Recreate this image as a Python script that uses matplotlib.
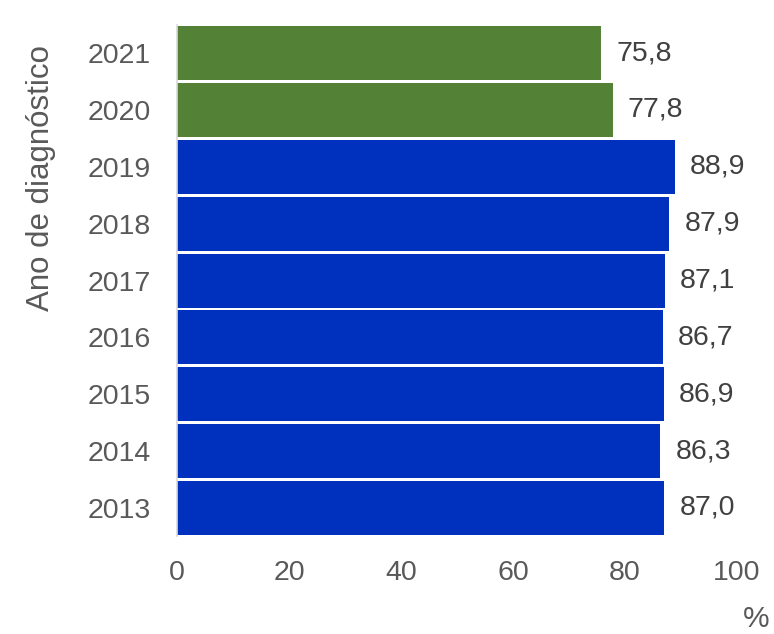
import matplotlib.pyplot as plt

# survival by year of diagnosis
anos = ['2013', '2014', '2015', '2016', '2017', '2018', '2019', '2020', '2021']
valores = [87.0, 86.3, 86.9, 86.7, 87.1, 87.9, 88.9, 77.8, 75.8]
rotulos = ['87,0', '86,3', '86,9', '86,7', '87,1', '87,9', '88,9', '77,8', '75,8']
cores = ['#0030BE'] * 7 + ['#538135'] * 2

plt.rcParams['font.family'] = ['Liberation Sans', 'DejaVu Sans']

fig = plt.figure(figsize=(7.74, 6.34), dpi=100)
ax = fig.add_axes([177 / 774, 0.154, 560 / 774, 0.807])

pos = range(len(anos))
ax.barh(pos, valores, height=0.95, color=cores)

for p, v, r in zip(pos, valores, rotulos):
    ax.annotate(r, (v, p), xytext=(11, 0), textcoords='offset points',
                va='center', ha='left', fontsize=20.5, color='#404040')

ax.set_xlim(0, 100)
ax.set_ylim(-0.5, len(anos) - 0.5)
ax.set_xticks([0, 20, 40, 60, 80, 100])
ax.set_yticks(list(pos))
ax.set_yticklabels(anos)
ax.tick_params(axis='both', length=0, labelsize=20.5, labelcolor='#595959')
ax.tick_params(axis='y', pad=19)
ax.tick_params(axis='x', pad=17)

for s in ['top', 'right', 'bottom']:
    ax.spines[s].set_visible(False)
ax.spines['left'].set_color('#D9D9D9')
ax.spines['left'].set_linewidth(1.2)

fig.text(41 / 774, 1 - 178 / 634, 'Ano de diagnóstico', rotation=90,
         ha='center', va='center', fontsize=22.5, color='#595959')
fig.text(756 / 774, 1 - 619 / 634, '%', ha='center', va='center',
         fontsize=21.5, color='#595959')

fig.savefig('out.png', dpi=100)
